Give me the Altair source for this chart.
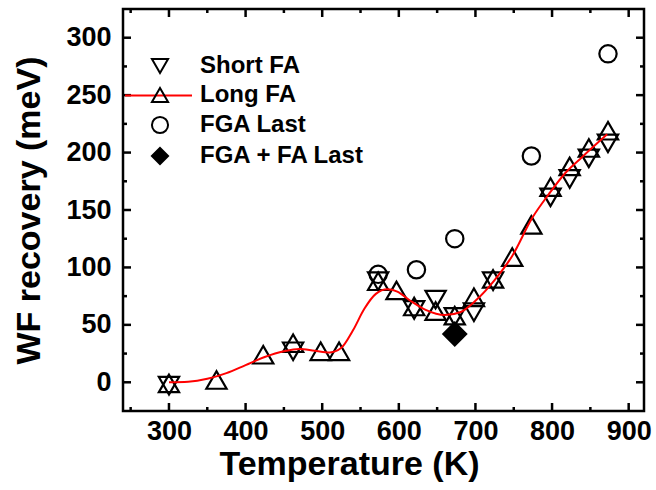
import altair as alt
import pandas as pd

# ---- data ----
short_T = [300, 462, 573, 620, 648, 673, 698, 723, 798, 823, 848, 873]
short_v = [-3, 27, 88, 63, 72, 57, 61, 88, 161, 177, 195, 208]

long_T = [300, 362, 423, 462, 498, 522, 573, 597, 620, 648, 673, 698, 723, 748, 773, 798, 823, 848, 873]
long_v = [-1, 2, 24, 34, 27, 27, 88, 80, 66, 62, 58, 74, 90, 109, 137, 170, 188, 204, 219]

fga_T = [573, 623, 673, 773, 873]
fga_v = [94, 98, 125, 197, 286]

fgafa_T = [673]
fgafa_v = [42]

fit_T = [300, 325, 350, 375, 400, 425, 450, 470, 490, 510, 525, 540, 555, 570, 585, 598,
         615, 635, 660, 680, 700, 725, 748, 774, 796, 817, 839, 872]
fit_v = [0, 0.5, 3, 8, 15, 22, 27, 29, 27.5, 26, 30, 45, 64, 77, 81, 79,
         71, 63, 58.5, 61, 71, 89, 110, 143, 164, 182, 196, 216]

series_names = ["Short FA", "Long FA", "FGA Last", "FGA + FA Last"]

x_major = [300, 400, 500, 600, 700, 800, 900]
x_minor = [250, 350, 450, 550, 650, 750, 850]
y_major = [0, 50, 100, 150, 200, 250, 300]
y_minor = [25, 75, 125, 175, 225, 275]

W, H = 521, 402
FONT = "Liberation Sans"

xs = alt.Scale(domain=[240, 920], nice=False, zero=False)
ys = alt.Scale(domain=[-25, 325], nice=False, zero=False)

xaxis = alt.Axis(values=x_major, title="Temperature (K)", ticks=False, domain=False, grid=False,
                 labelFont=FONT, labelFontSize=27, labelFontWeight="bold", labelColor="black",
                 labelPadding=7, titleFont=FONT, titleFontSize=34, titleFontWeight="bold",
                 titleColor="black", titlePadding=3, titleX=226)
yaxis = alt.Axis(values=y_major, title="WF recovery (meV)", ticks=False, domain=False, grid=False,
                 labelFont=FONT, labelFontSize=27, labelFontWeight="bold", labelColor="black",
                 labelPadding=12, titleFont=FONT, titleFontSize=34, titleFontWeight="bold",
                 titleColor="black", titlePadding=19)

def pts(T, v, name):
    return pd.DataFrame({"T": T, "v": v, "series": name})

df_short = pts(short_T, short_v, "Short FA")
df_long = pts(long_T, long_v, "Long FA")
df_fga = pts(fga_T, fga_v, "FGA Last")
df_fgafa = pts(fgafa_T, fgafa_v, "FGA + FA Last")
df_all = pd.concat([df_short, df_long, df_fga, df_fgafa])
df_fit = pd.DataFrame({"T": fit_T, "v": fit_v, "name": "Long FA"})

X = alt.X("T:Q", scale=xs, axis=xaxis)
Y = alt.Y("v:Q", scale=ys, axis=yaxis)

def point_layer(df, shape, size, filled):
    if filled:
        m = alt.Chart(df).mark_point(shape=shape, size=size, filled=True, fill="black",
                                     stroke="black", strokeWidth=2.2, opacity=1)
    else:
        m = alt.Chart(df).mark_point(shape=shape, size=size, filled=False,
                                     stroke="black", strokeWidth=2.2, opacity=1)
    return m.encode(x=X, y=Y)

l_short = point_layer(df_short, "triangle-down", 410, False)
l_long = point_layer(df_long, "triangle-up", 410, False)
l_fga = point_layer(df_fga, "circle", 300, False)
l_fgafa = point_layer(df_fgafa, "diamond", 520, True)

leg = alt.Legend(title=None, orient="none", legendX=25, legendY=45, labelFont=FONT,
                 labelFontSize=24, labelFontWeight="bold", labelColor="black", rowPadding=5,
                 labelOffset=28, labelLimit=0, symbolStrokeWidth=2)

legend_layer = alt.Chart(df_all).transform_filter("false").mark_point(
    filled=True, opacity=1, strokeWidth=2
).encode(
    x=X, y=Y,
    shape=alt.Shape("series:N", scale=alt.Scale(domain=series_names,
                    range=["triangle-down", "triangle-up", "circle", "diamond"]), legend=leg),
    fill=alt.Fill("series:N", scale=alt.Scale(domain=series_names,
                  range=["transparent", "transparent", "transparent", "black"]), legend=leg),
    size=alt.Size("series:N", scale=alt.Scale(domain=series_names,
                  range=[260, 260, 160, 340]), legend=leg),
    stroke=alt.Stroke("series:N", scale=alt.Scale(domain=series_names,
                      range=["black", "black", "black", "black"]), legend=leg),
)

fit_layer = alt.Chart(df_fit).mark_line(interpolate="monotone", strokeWidth=2).encode(
    x=X, y=Y,
    color=alt.Color("name:N", scale=alt.Scale(domain=["Long FA"], range=["red"]),
                    legend=alt.Legend(title=None, orient="none", legendX=1, legendY=52,
                                      symbolType="stroke", symbolSize=4489,
                                      symbolStrokeWidth=2, labelExpr="''",
                                      labelFontSize=24)),
)

# inward ticks
def xticks(vals, length, top):
    d = pd.DataFrame({"t": vals})
    if top:
        yy, yy2 = alt.value(0), alt.value(length)
    else:
        yy, yy2 = alt.value(H), alt.value(H - length)
    return alt.Chart(d).mark_rule(color="black", strokeWidth=2.5).encode(
        x=alt.X("t:Q", scale=xs, axis=xaxis), y=yy, y2=yy2)

def yticks(vals, length, right):
    d = pd.DataFrame({"t": vals})
    if right:
        xx, xx2 = alt.value(W), alt.value(W - length)
    else:
        xx, xx2 = alt.value(0), alt.value(length)
    return alt.Chart(d).mark_rule(color="black", strokeWidth=2.5).encode(
        y=alt.Y("t:Q", scale=ys, axis=yaxis), x=xx, x2=xx2)

tick_layers = [
    xticks(x_major, 8, False), xticks(x_major, 8, True),
    xticks(x_minor, 4, False), xticks(x_minor, 4, True),
    yticks(y_major, 8, False), yticks(y_major, 8, True),
    yticks(y_minor, 4, False), yticks(y_minor, 4, True),
]

chart = alt.layer(
    *tick_layers, l_fga, l_short, l_long, l_fgafa, fit_layer, legend_layer
).properties(
    width=W, height=H,
    autosize=alt.AutoSizeParams(type="none"),
    padding={"left": 123, "top": 9, "right": 12, "bottom": 79},
).configure_view(stroke="black", strokeWidth=2.5)

chart.save("out.html", embed_options={"renderer": "svg", "actions": False})
